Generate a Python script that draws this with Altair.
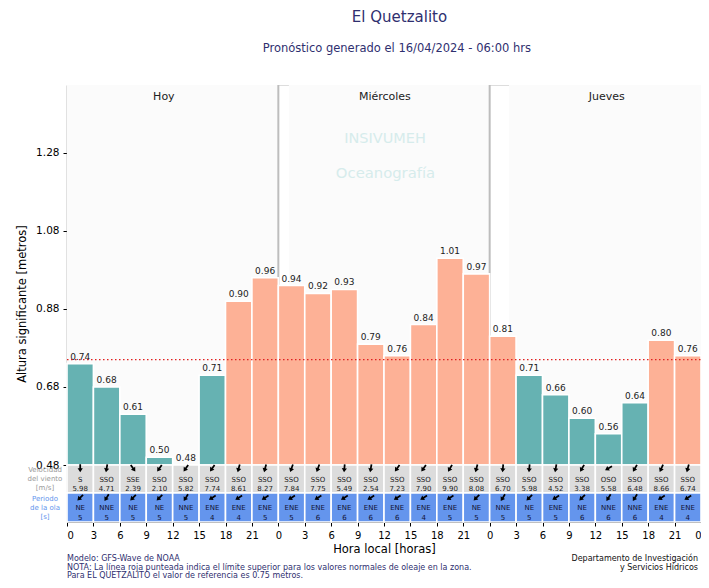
import altair as alt
import pandas as pd

FONT = "DejaVu Sans"

# ---------------- data ----------------
hora_inicio = list(range(0, 72, 3))
altura = [0.74, 0.68, 0.61, 0.50, 0.48, 0.71, 0.90, 0.96,
          0.94, 0.92, 0.93, 0.79, 0.76, 0.84, 1.01, 0.97,
          0.81, 0.71, 0.66, 0.60, 0.56, 0.64, 0.80, 0.76]
viento_dir = ["S", "SSO", "SSE", "SSO", "SSO", "SSO", "SSO", "SSO",
              "SSO", "SSO", "SSO", "SSO", "SSO", "SSO", "SSO", "SSO",
              "SSO", "SSO", "SSO", "SSO", "OSO", "SSO", "SSO", "SSO"]
viento_vel = [5.98, 4.71, 2.39, 2.10, 5.82, 7.74, 8.61, 8.27,
              7.84, 7.75, 5.49, 2.54, 7.23, 7.90, 9.90, 8.08,
              6.70, 5.98, 4.52, 3.38, 5.58, 6.48, 8.66, 6.74]
viento_ang = [180, 190, 145, 215, 215, 215, 195, 195,
              200, 200, 185, 190, 215, 215, 210, 195,
              185, 185, 190, 210, 240, 210, 205, 195]
ola_dir = ["NE", "NNE", "NE", "NE", "NNE", "ENE", "ENE", "ENE",
           "ENE", "ENE", "ENE", "ENE", "ENE", "ENE", "ENE", "NE",
           "NNE", "NE", "ENE", "NE", "NNE", "NNE", "ENE", "ENE"]
ola_periodo = [5, 5, 5, 5, 5, 4, 4, 5,
               5, 6, 6, 6, 6, 4, 5, 5,
               5, 5, 5, 6, 6, 6, 4, 4]
dias = ["Hoy", "Miércoles", "Jueves"]
dia_centro = [11.0, 36.1, 61.3]
panel_ini = [0.0, 25.2, 50.2]
panel_fin = [24.0, 48.0, 72.0]
separadores = [24, 48]
umbral = 0.75
base = 0.48
x_ticks = list(range(0, 75, 3))
y_ticks = [0.48, 0.68, 0.88, 1.08, 1.28]

ola_ang_map = {"NE": 225, "NNE": 212, "ENE": 238}

TEAL = "#66b2b2"
SALMON = "#fdb196"
GRAY_ROW = "#dcdcdc"
BLUE_ROW = "#6495ed"
NAVY = "#2f2f6f"

df = pd.DataFrame({
    "inicio": hora_inicio,
    "fin": [h + 3 for h in hora_inicio],
    "centro": [h + 1.5 for h in hora_inicio],
    "altura": altura,
    "base": [base] * len(altura),
    "etiqueta": [f"{v:.2f}" for v in altura],
    "vdir": viento_dir,
    "vvel": [f"{v:.2f}" for v in viento_vel],
    "vang": viento_ang,
    "odir": ola_dir,
    "oper": [str(p) for p in ola_periodo],
    "oang": [ola_ang_map[d] for d in ola_dir],
})
df_panel = pd.DataFrame({"ini": panel_ini, "fin": panel_fin, "dia": dias, "centro": dia_centro})
df_sep = pd.DataFrame({"x": separadores})
df_umbral = pd.DataFrame({"y": [umbral]})

W, H = 634, 437
xscale = alt.Scale(domain=[0, 72], nice=False, zero=False)
yscale = alt.Scale(domain=[0.334, 1.454], nice=False, zero=False)
xaxis = alt.Axis(values=x_ticks, labelExpr="datum.value % 24", grid=False,
                 title="Hora local [horas]", labelFontSize=10, titleFontSize=11.5,
                 tickSize=4, labelPadding=4, titlePadding=3, domainColor="black",
                 tickColor="black", labelColor="black", titleColor="black",
                 titleFontWeight="normal", labelFont=FONT, titleFont=FONT)
yaxis = alt.Axis(values=y_ticks, format=".2f", grid=False,
                 title="Altura significante [metros]", labelFontSize=10.5,
                 titleFontSize=11.5, tickSize=4, labelPadding=4, titlePadding=8,
                 domainColor="#888888", domainWidth=1.5, tickColor="black",
                 labelColor="black", titleColor="black", titleFontWeight="normal",
                 labelFont=FONT, titleFont=FONT)


def X(field, **kw):
    return alt.X(f"{field}:Q", scale=xscale, axis=xaxis, **kw)


def Y(field):
    return alt.Y(f"{field}:Q", scale=yscale, axis=yaxis)


ARROW = "M-0.22,1L0.22,1L0.22,0L0.65,0L0,-1L-0.65,0L-0.22,0Z"


def txt(s, x, y, size, color, align="center", baseline="middle"):
    return alt.Chart(pd.DataFrame({"t": [s]})).mark_text(
        align=align, baseline=baseline, fontSize=size, color=color, font=FONT
    ).encode(x=alt.value(x), y=alt.value(y), text="t:N")


layers = []

# day panels
layers.append(alt.Chart(df_panel).mark_rect(fill="#fbfbfb").encode(
    x=X("ini"), x2="fin:Q", y=alt.value(0), y2=alt.value(380)))
layers.append(alt.Chart(df_sep).mark_rule(color="#bdbdbd", strokeWidth=2).encode(
    x=X("x"), y=alt.value(0), y2=alt.value(380)))
layers.append(alt.Chart(df_panel).mark_text(fontSize=11, color="#222222", font=FONT).encode(
    x=X("centro"), y=alt.value(11.7), text="dia:N"))

# watermark
layers.append(txt("INSIVUMEH", 318, 54, 14.5, "#d6ecec"))
layers.append(txt("Oceanografía", 318.5, 89, 14.8, "#d6ecec"))

# bars
layers.append(alt.Chart(df).mark_bar(stroke="white", strokeWidth=1.6).encode(
    x=X("inicio"), x2="fin:Q", y=Y("altura"), y2="base:Q",
    color=alt.condition(alt.datum.altura >= umbral, alt.value(SALMON), alt.value(TEAL))))
layers.append(alt.Chart(df).mark_text(baseline="bottom", dy=-2, fontSize=9,
                                      color="#222222", font=FONT).encode(
    x=X("centro"), y=Y("altura"), text="etiqueta:N"))

# threshold
layers.append(alt.Chart(df_umbral).mark_rule(color="#e02020", strokeWidth=1.3,
                                             strokeDash=[1.5, 2.5]).encode(
    y=Y("y"), x=alt.value(0), x2=alt.value(W)))

# rows
layers.append(alt.Chart(df).mark_rect(fill=GRAY_ROW, stroke="white", strokeWidth=1.6).encode(
    x=X("inicio"), x2="fin:Q", y=alt.value(380), y2=alt.value(408)))
layers.append(alt.Chart(df).mark_rect(fill=BLUE_ROW, stroke="white", strokeWidth=1.6).encode(
    x=X("inicio"), x2="fin:Q", y=alt.value(408), y2=alt.value(437)))

layers.append(alt.Chart(df).mark_point(shape=ARROW, filled=True, color="black",
                                       opacity=1, size=64).encode(
    x=X("centro"), y=alt.value(383.3), angle=alt.Angle("vang:Q", scale=None)))
layers.append(alt.Chart(df).mark_text(fontSize=7, color="#222222", font=FONT).encode(
    x=X("centro"), y=alt.value(395), text="vdir:N"))
layers.append(alt.Chart(df).mark_text(fontSize=7, color="#222222", font=FONT).encode(
    x=X("centro"), y=alt.value(403.5), text="vvel:N"))
layers.append(alt.Chart(df).mark_point(shape=ARROW, filled=True, color="black",
                                       opacity=1, size=64).encode(
    x=X("centro"), y=alt.value(412.7), angle=alt.Angle("oang:Q", scale=None)))
layers.append(alt.Chart(df).mark_text(fontSize=7, color="#111133", font=FONT).encode(
    x=X("centro"), y=alt.value(423.3), text="odir:N"))
layers.append(alt.Chart(df).mark_text(fontSize=7, color="#111133", font=FONT).encode(
    x=X("centro"), y=alt.value(432.7), text="oper:N"))

# left row labels
for s, yy in [("Velocidad", 385), ("del viento", 394), ("[m/s]", 403)]:
    layers.append(txt(s, -22, yy, 7, "#999999"))
for s, yy in [("Periodo", 414), ("de la ola", 423), ("[s]", 432)]:
    layers.append(txt(s, -22, yy, 7, BLUE_ROW))

# titles
layers.append(txt("El Quetzalito", 332.5, -68, 15, NAVY))
layers.append(txt("Pronóstico generado el 16/04/2024 - 06:00 hrs", 329.8, -36, 11.5, NAVY))

# footer
layers.append(txt("Modelo: GFS-Wave de NOAA", 0, 474.3, 8, NAVY, align="left"))
layers.append(txt("NOTA: La línea roja punteada indica el límite superior para los valores normales de oleaje en la zona.",
                  0, 482.7, 8, NAVY, align="left"))
layers.append(txt("Para EL QUETZALITO el valor de referencia es 0.75 metros.", 0, 491.1, 8, NAVY, align="left"))
layers.append(txt("Departamento de Investigación", 631, 474.3, 8, "#111111", align="right"))
layers.append(txt("y Servicios Hídricos", 631, 482.7, 8, "#111111", align="right"))

chart = alt.layer(*layers).properties(
    width=W, height=H,
    autosize=alt.AutoSizeParams(type="none"),
    padding={"left": 59, "top": 77, "right": 0, "bottom": 58},
    background="white",
).configure_view(stroke=None).configure(font=FONT)

chart.save("out.html", embed_options={"renderer": "svg", "actions": False})
